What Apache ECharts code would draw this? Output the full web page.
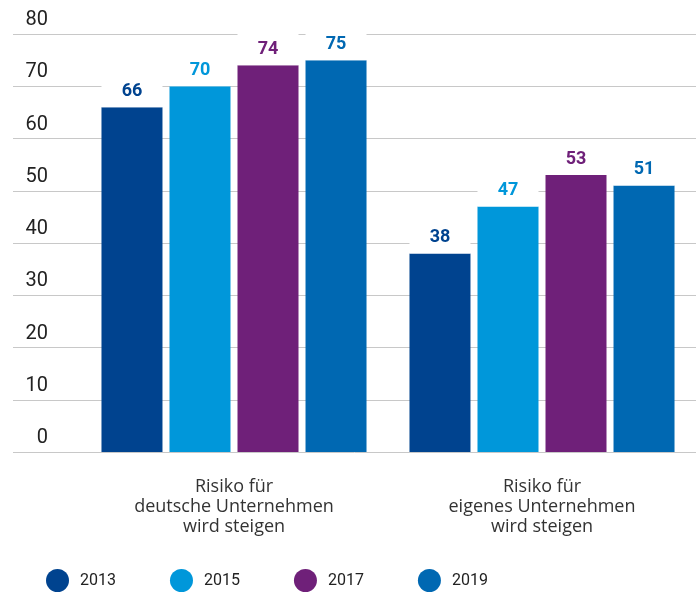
<!DOCTYPE html>
<html>
<head>
<meta charset="utf-8">
<script src="https://cdn.jsdelivr.net/npm/echarts@6/dist/echarts.min.js"></script>
<style>
  html, body { margin: 0; padding: 0; background: #fff; }
  #chart { width: 696px; height: 594px; }
</style>
</head>
<body>
<div id="chart"></div>
<script>
// Survey groups and yearly shares (in %)
const categories = [
  'Risiko für\ndeutsche Unternehmen\nwird steigen',
  'Risiko für\neigenes Unternehmen\nwird steigen'
];
const years = ['2013', '2015', '2017', '2019'];
const values2013 = [66, 38];
const values2015 = [70, 47];
const values2017 = [74, 53];
const values2019 = [75, 51];
const yTicks = { min: 0, max: 80, interval: 10 };

const colors = ['#00438F', '#0097DA', '#6F2079', '#0068B2'];
const seriesValues = [values2013, values2015, values2017, values2019];

// oval legend marker (stretches to itemWidth x itemHeight)
const ovalIcon = 'path://M50,0 A50,50 0 1,1 50,100 A50,50 0 1,1 50,0 Z';

const chart = echarts.init(document.getElementById('chart'), null, { renderer: 'canvas' });

const series = years.map((y, i) => ({
  name: y,
  type: 'bar',
  xAxisIndex: 1,
  yAxisIndex: 1,
  data: seriesValues[i],
  barWidth: 61,
  barGap: '11.5%',
  itemStyle: { color: colors[i] },
  label: {
    show: true,
    position: 'top',
    distance: 0,
    color: colors[i],
    fontFamily: 'Roboto',
    fontWeight: 'bold',
    fontSize: 18,
    lineHeight: 18,
    backgroundColor: '#fff',
    width: 61,
    align: 'center',
    padding: [7, 0, 7, 0]
  },
  emphasis: { disabled: true },
  animation: false
}));

chart.setOption({
  animation: false,
  color: colors,
  grid: [
    { left: 13, right: 0, top: 34, bottom: 142 },
    { left: 80, right: 0, top: 34, bottom: 142 }
  ],
  xAxis: [
    { gridIndex: 0, type: 'category', data: [], show: false },
    {
      gridIndex: 1,
      type: 'category',
      data: categories,
      axisLine: { show: false },
      axisTick: { show: false },
      axisLabel: {
        margin: 25,
        color: '#333',
        fontFamily: 'Open Sans',
        fontSize: 18,
        lineHeight: 20
      }
    }
  ],
  yAxis: [
    {
      gridIndex: 0,
      type: 'value',
      min: yTicks.min,
      max: yTicks.max,
      interval: yTicks.interval,
      axisLine: { show: false },
      axisTick: { show: false },
      splitLine: { lineStyle: { color: '#c8c8c8', width: 1 } },
      axisLabel: {
        inside: true,
        align: 'right',
        margin: 35,
        verticalAlign: 'bottom',
        padding: [0, 0, 4, 0],
        color: '#222',
        fontFamily: 'Roboto',
        fontSize: 20
      }
    },
    { gridIndex: 1, type: 'value', min: yTicks.min, max: yTicks.max, interval: yTicks.interval, show: false }
  ],
  legend: {
    data: years,
    left: 46,
    top: 569,
    padding: 0,
    icon: ovalIcon,
    itemWidth: 23,
    itemHeight: 26,
    itemGap: 54,
    textStyle: {
      color: '#222',
      fontFamily: 'Roboto',
      fontSize: 16,
      padding: [3, 0, 0, 6]
    }
  },
  series: series
});
</script>
</body>
</html>
